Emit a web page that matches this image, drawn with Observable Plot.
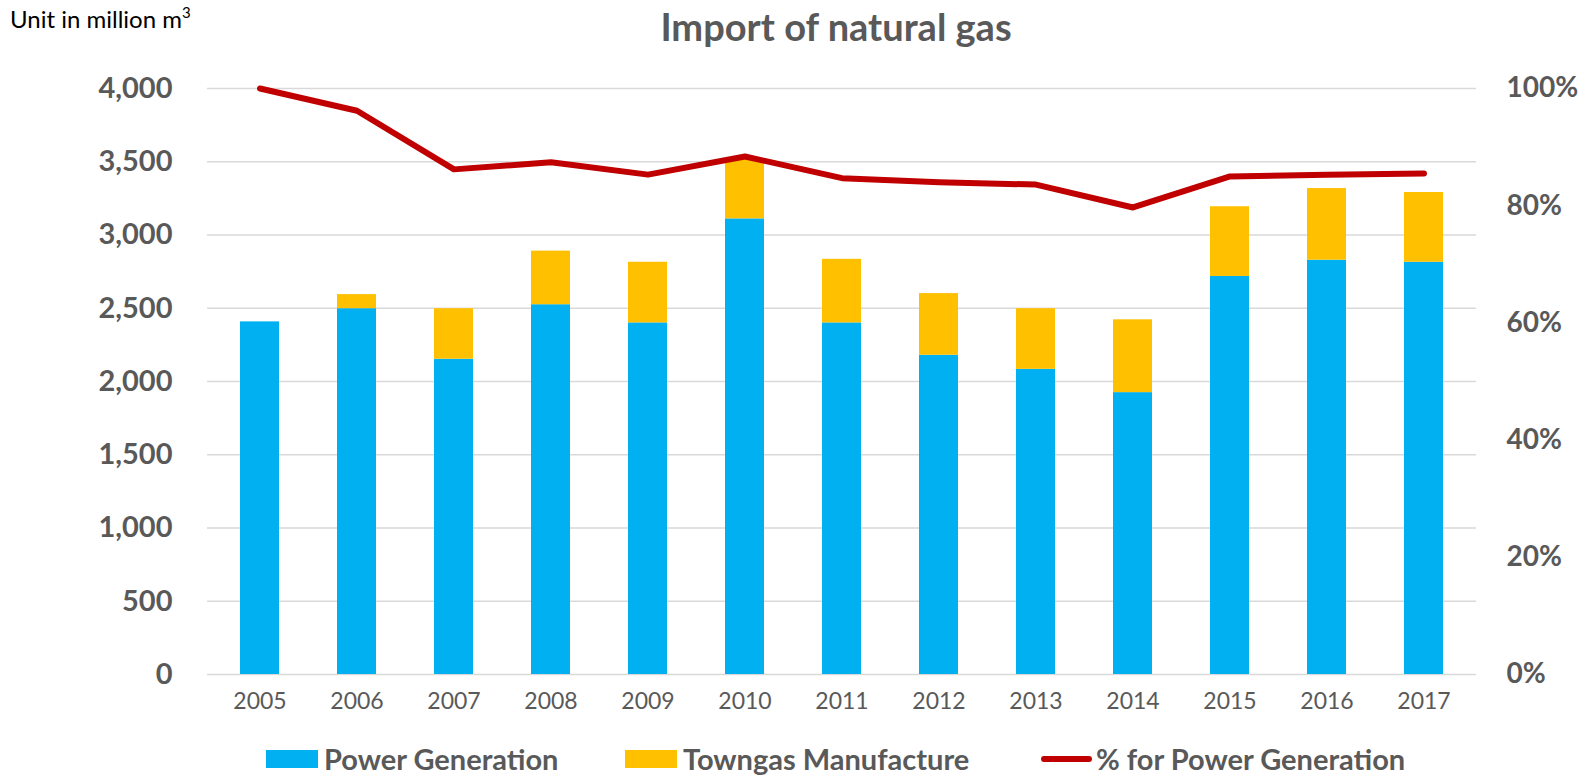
<!DOCTYPE html>
<html><head><meta charset="utf-8">
<script src="https://cdn.jsdelivr.net/npm/d3@7"></script>
<script src="https://cdn.jsdelivr.net/npm/@observablehq/plot@0.6"></script>
<style>
body{margin:0;background:#fff;font-family:Lato,"Open Sans",sans-serif;}
#wrap{position:relative;width:1585px;height:778px;overflow:hidden;background:#fff}
#chart{position:absolute;left:0;top:0}
#unit{position:absolute;left:10px;top:4px;font-size:24px;color:#000;white-space:nowrap}
#unit sup{font-size:15px;vertical-align:0;position:relative;top:-10px}
#title{position:absolute;left:0;width:1672px;top:3px;text-align:center;font-size:38px;font-weight:bold;color:#595959}
.lg{position:absolute;top:741px;height:36px;line-height:36px;display:flex;align-items:center;font-size:29px;font-weight:bold;color:#595959;white-space:nowrap}
.sw{display:inline-block;width:52px;height:18px;margin-right:6px}
.ln{display:inline-block;width:51px;height:6px;border-radius:3px;background:#C00000;margin-right:4px}
</style></head><body>
<div id="wrap">
  <div id="unit">Unit in million m<sup>3</sup></div>
  <div id="title">Import of natural gas</div>
  <div id="chart"></div>
  <div class="lg" style="left:266px"><span class="sw" style="background:#00B0F0"></span>Power Generation</div>
  <div class="lg" style="left:625px"><span class="sw" style="background:#FFC000"></span>Towngas Manufacture</div>
  <div class="lg" style="left:1041px"><span class="ln"></span>% for Power Generation</div>
</div>
<script>
const years = ["2005","2006","2007","2008","2009","2010","2011","2012","2013","2014","2015","2016","2017"];
const power = [2407, 2497, 2152, 2524, 2400, 3110, 2400, 2179, 2083, 1924, 2717, 2828, 2814];
const towngas = [0, 96, 345, 366, 414, 410, 434, 421, 414, 497, 476, 489, 476];
const pctPower = [100, 96.2, 86.2, 87.4, 85.3, 88.4, 84.7, 84.0, 83.6, 79.7, 85.0, 85.3, 85.5];
const seriesNames = ["Power Generation", "Towngas Manufacture"];
const leftTicks = [0, 500, 1000, 1500, 2000, 2500, 3000, 3500, 4000];
const rightTicks = [0, 20, 40, 60, 80, 100];

const K = 4000 / 100; // right axis: 100% aligns with 4,000
const rows = years.flatMap((y, i) => [
  {year: y, series: seriesNames[0], value: power[i]},
  {year: y, series: seriesNames[1], value: towngas[i]}
]);
const linePts = years.map((y, i) => ({year: y, pct: pctPower[i]}));

const chart = Plot.plot({
  width: 1585, height: 730,
  marginTop: 88, marginBottom: 56, marginLeft: 207, marginRight: 109,
  style: {fontFamily: "Lato, 'Open Sans', sans-serif", color: "#595959", background: "transparent", overflow: "visible"},
  x: {type: "band", domain: years, paddingInner: 0.6, paddingOuter: 0.3, label: null},
  y: {domain: [0, 4000], label: null},
  color: {domain: seriesNames, range: ["#00B0F0", "#FFC000"]},
  marks: [
    Plot.ruleY(leftTicks, {stroke: "#d9d9d9", strokeWidth: 1.5}),
    Plot.barY(rows, {x: "year", y: "value", fill: "series"}),
    Plot.line(linePts, {x: "year", y: d => d.pct * K, stroke: "#C00000", strokeWidth: 6, strokeLinejoin: "round", strokeLinecap: "round"}),
    Plot.axisY(leftTicks, {anchor: "left", tickSize: 0, tickPadding: 35, tickFormat: d3.format(","), fontSize: 29, fontWeight: "bold", fill: "#595959", label: null}),
    Plot.axisY(rightTicks.map(v => v * K), {anchor: "right", tickSize: 0, tickPadding: 30, tickFormat: d => (d / K) + "%", fontSize: 28, fontWeight: "bold", fill: "#595959", label: null}),
    Plot.axisX({tickSize: 0, tickPadding: 18, fontSize: 23, fill: "#595959", label: null})
  ]
});
document.getElementById("chart").appendChild(chart);
</script>
</body></html>
